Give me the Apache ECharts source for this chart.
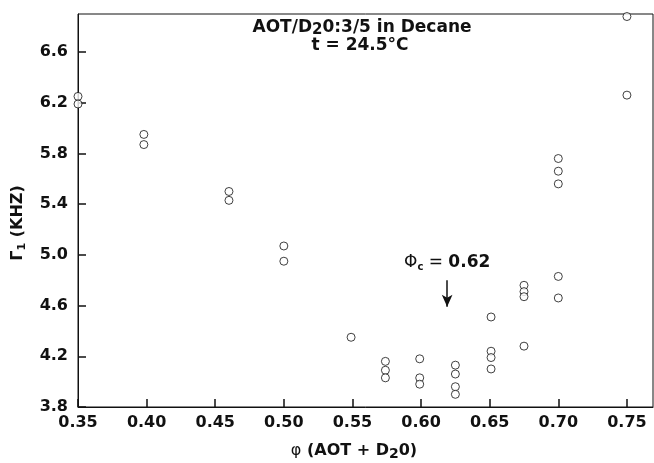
<!DOCTYPE html>
<html>
<head>
<meta charset="utf-8">
<script src="https://cdn.jsdelivr.net/npm/echarts@6/dist/echarts.min.js"></script>
<style>
  html, body { margin: 0; padding: 0; background: #fff; }
  #chart { width: 654px; height: 463px; }
</style>
</head>
<body>
<div id="chart"></div>
<script>
// volume fraction phi (AOT + D2O) and measured Gamma_1 in kHz
var phi = [0.35, 0.35, 0.398, 0.398, 0.46, 0.46, 0.50, 0.50, 0.549,
  0.574, 0.574, 0.574, 0.599, 0.599, 0.599, 0.625, 0.625, 0.625, 0.625,
  0.651, 0.651, 0.651, 0.651, 0.675, 0.675, 0.675, 0.675,
  0.70, 0.70, 0.70, 0.70, 0.70, 0.75, 0.75];
var gamma = [6.25, 6.19, 5.95, 5.87, 5.50, 5.43, 5.07, 4.95, 4.35,
  4.16, 4.09, 4.03, 4.18, 4.03, 3.98, 4.13, 4.06, 3.96, 3.90,
  4.51, 4.24, 4.19, 4.10, 4.76, 4.71, 4.67, 4.28,
  5.76, 5.66, 5.56, 4.83, 4.66, 6.88, 6.26];
// arrow marking the critical volume fraction
var phiC = 0.619;
var arrowFrom = 4.80;
var arrowTo = 4.59;

var font = 'DejaVu Sans';
var points = phi.map(function (x, i) { return [x, gamma[i]]; });

var chart = echarts.init(document.getElementById('chart'));

chart.setOption({
  animation: false,
  grid: {
    left: 78, top: 14, right: 1, bottom: 56,
    show: true,
    borderColor: '#111',
    borderWidth: 1
  },
  xAxis: {
    type: 'value',
    min: 0.35,
    max: 0.769,
    interval: 0.05,
    splitLine: { show: false },
    axisLine: { show: true, lineStyle: { color: '#111' } },
    axisTick: { show: true, inside: true, length: 8, lineStyle: { color: '#111', width: 1.5 } },
    axisLabel: {
      showMaxLabel: false,
      margin: 8,
      color: '#111',
      fontFamily: font,
      fontWeight: 'bold',
      fontSize: 16,
      formatter: function (v) { return v.toFixed(2); }
    }
  },
  yAxis: {
    type: 'value',
    min: 3.8,
    max: 6.9,
    interval: 0.4,
    splitLine: { show: false },
    axisLine: { show: true, lineStyle: { color: '#111' } },
    axisTick: { show: true, inside: true, length: 8, lineStyle: { color: '#111', width: 1.5 } },
    axisLabel: {
      showMaxLabel: false,
      margin: 10,
      color: '#111',
      fontFamily: font,
      fontWeight: 'bold',
      fontSize: 16,
      formatter: function (v) { return v.toFixed(1); }
    }
  },
  series: [{
    type: 'scatter',
    data: points,
    symbol: 'circle',
    symbolSize: 8,
    itemStyle: { color: '#fff', borderColor: '#111', borderWidth: 1 },
    markLine: {
      silent: true,
      symbol: ['none', 'arrow'],
      symbolSize: [8, 12],
      lineStyle: { color: '#111', width: 1.5, type: 'solid' },
      label: {
        show: true,
        position: 'start',
        distance: 8,
        formatter: '{p|Φ}{c|c}{eq| = }{v|0.62}',
        rich: {
          p: { fontFamily: font, fontSize: 17, color: '#111', lineHeight: 20 },
          c: { fontFamily: font, fontSize: 10, fontWeight: 'bold', color: '#111', verticalAlign: 'bottom', lineHeight: 12 },
          eq: { fontFamily: font, fontSize: 17, color: '#111', lineHeight: 20 },
          v: { fontFamily: font, fontSize: 17, fontWeight: 'bold', color: '#111', lineHeight: 20 }
        }
      },
      data: [[
        { coord: [phiC, arrowFrom] },
        { coord: [phiC, arrowTo] }
      ]]
    }
  }],
  graphic: [
    {
      type: 'text',
      x: 362, y: 28,
      style: {
        text: '{m|AOT/D}{s|2}{m|0:3/5 in Decane}',
        align: 'center',
        verticalAlign: 'middle',
        rich: {
          m: { fontFamily: font, fontSize: 17, fontWeight: 'bold', fill: '#111', lineHeight: 20 },
          s: { fontFamily: font, fontSize: 15, fontWeight: 'bold', fill: '#111', verticalAlign: 'bottom', lineHeight: 14 }
        }
      }
    },
    {
      type: 'text',
      x: 360, y: 46,
      style: {
        text: 't = 24.5°C',
        align: 'center',
        verticalAlign: 'middle',
        font: 'bold 17px "DejaVu Sans"',
        fill: '#111'
      }
    },
    {
      type: 'text',
      x: 18, y: 223,
      rotation: Math.PI / 2,
      style: {
        text: '{m|Γ}{s|1}{m| (KHZ)}',
        align: 'center',
        verticalAlign: 'middle',
        rich: {
          m: { fontFamily: font, fontSize: 16, fontWeight: 'bold', fill: '#111', lineHeight: 20 },
          s: { fontFamily: font, fontSize: 11, fontWeight: 'bold', fill: '#111', verticalAlign: 'bottom', lineHeight: 12 }
        }
      }
    },
    {
      type: 'text',
      x: 354, y: 451,
      style: {
        text: '{p|φ}{m| (AOT + D}{s|2}{m|0)}',
        align: 'center',
        verticalAlign: 'middle',
        rich: {
          p: { fontFamily: font, fontSize: 16, fill: '#111', lineHeight: 20 },
          m: { fontFamily: font, fontSize: 16, fontWeight: 'bold', fill: '#111', lineHeight: 20 },
          s: { fontFamily: font, fontSize: 14, fontWeight: 'bold', fill: '#111', verticalAlign: 'bottom', lineHeight: 14 }
        }
      }
    }
  ]
});
</script>
</body>
</html>
